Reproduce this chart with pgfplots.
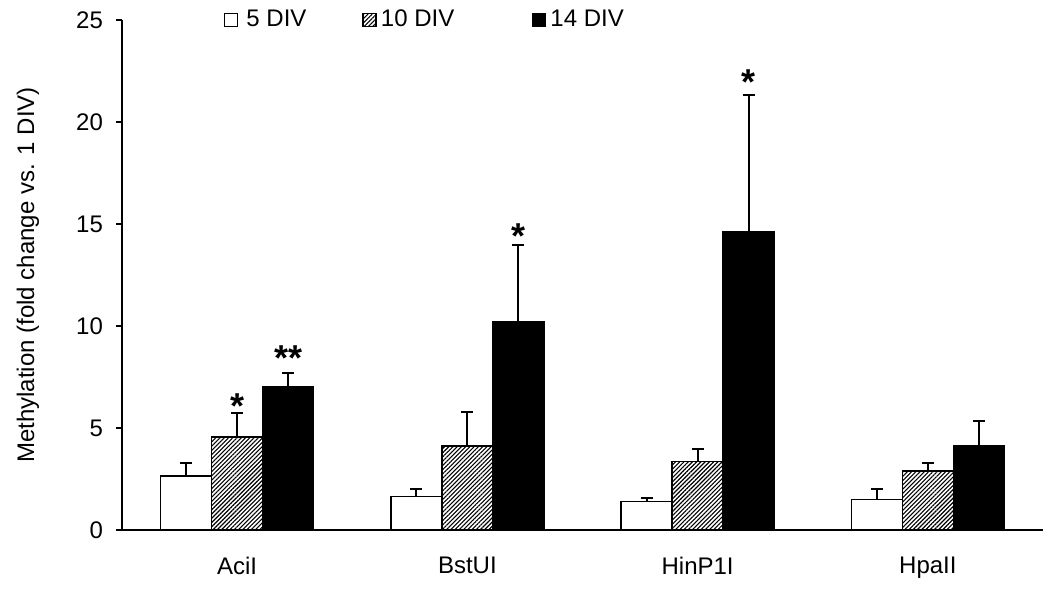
\documentclass[border=0pt]{standalone}
\usepackage{pgfplots}
\pgfplotsset{compat=1.18}
\usepackage{fontspec}
\setmainfont{Liberation Sans}
\usetikzlibrary{patterns.meta}

\pgfplotstableread{
x  val   err
0  2.65  0.65
1  1.65  0.35
2  1.40  0.17
3  1.50  0.50
}\divfive
\pgfplotstableread{
x  val   err
0  4.55  1.17
1  4.12  1.66
2  3.35  0.62
3  2.90  0.40
}\divten
\pgfplotstableread{
x  val   err
0  7.02  0.70
1  10.20 3.75
2  14.60 6.72
3  4.15  1.20
}\divfourteen

\begin{document}
\begin{tikzpicture}
\begin{axis}[
  at={(0,0)}, anchor=south west,
  scale only axis,
  width=460.5pt, height=255pt,
  xmin=-0.5, xmax=3.5,
  ymin=0, ymax=25,
  ytick={0,5,10,15,20,25},
  xtick={0,1,2,3},
  xticklabels={AciI,BstUI,HinP1I,HpaII},
  axis x line*=bottom,
  axis y line*=left,
  axis line style={-, line width=1pt},
  tick align=outside,
  major tick length=3pt,
  x tick style={draw=none},
  y tick style={line width=1pt, black},
  tick label style={font=\fontsize{12}{14}\selectfont},
  /pgf/number format/assume math mode=true,
  xticklabel style={yshift=-7pt},
  yticklabel style={xshift=-3pt},
  ylabel={Methylation (fold change vs. 1 DIV)},
  ylabel style={at={(rel axis cs:0,0.5)}, anchor=center, yshift=47pt, font=\fontsize{12}{14}\selectfont},
  ybar, bar width=0.2215,
  error bars/y dir=plus,
  error bars/y explicit,
  error bars/error mark=|,
  error bars/error mark options={mark size=3pt, line width=1pt, black},
  error bars/error bar style={line width=1pt, black},
  legend columns=3,
  legend style={draw=none, fill=none, at={(rel axis cs:0.1107,1)}, anchor=west,
    inner sep=0pt, outer sep=0pt, nodes={inner sep=0pt, anchor=west},
    column sep=0pt, font=\fontsize{12}{14}\selectfont},
  legend image code/.code={\draw[#1, line width=0.75pt] (0pt,-3.25pt) rectangle (6.5pt,3.25pt);},
]
\addplot[bar shift=-0.2215, draw=black, fill=white, line width=0.75pt]
  table[x=x, y=val, y error=err] {\divfive};
\addlegendentry{\makebox[62pt][l]{\hspace{4pt}5 DIV}}
\addplot[bar shift=0, draw=black, fill=white, line width=0.75pt,
  postaction={pattern={Lines[angle=45, distance=1.5pt, line width=0.55pt]}}]
  table[x=x, y=val, y error=err] {\divten};
\addlegendentry{\makebox[77.5pt][l]{\hspace{2pt}10 DIV}}
\addplot[bar shift=0.2215, draw=black, fill=black, line width=0.75pt]
  table[x=x, y=val, y error=err] {\divfourteen};
\addlegendentry{\hspace{2pt}14 DIV}

\node[anchor=base, font=\fontsize{18}{18}\selectfont\bfseries, yshift=-10.3pt] at (axis cs:0,6.47) {*};
\node[anchor=base, font=\fontsize{18}{18}\selectfont\bfseries, yshift=-10.3pt] at (axis cs:0.2215,8.82) {**};
\node[anchor=base, font=\fontsize{18}{18}\selectfont\bfseries, yshift=-10.3pt] at (axis cs:1.2215,14.8) {*};
\node[anchor=base, font=\fontsize{18}{18}\selectfont\bfseries, yshift=-10.3pt] at (axis cs:2.2215,22.35) {*};
\end{axis}
\pgfresetboundingbox
\path[use as bounding box] (-61pt,-30pt) rectangle (464pt,265pt);
\end{tikzpicture}
\end{document}
